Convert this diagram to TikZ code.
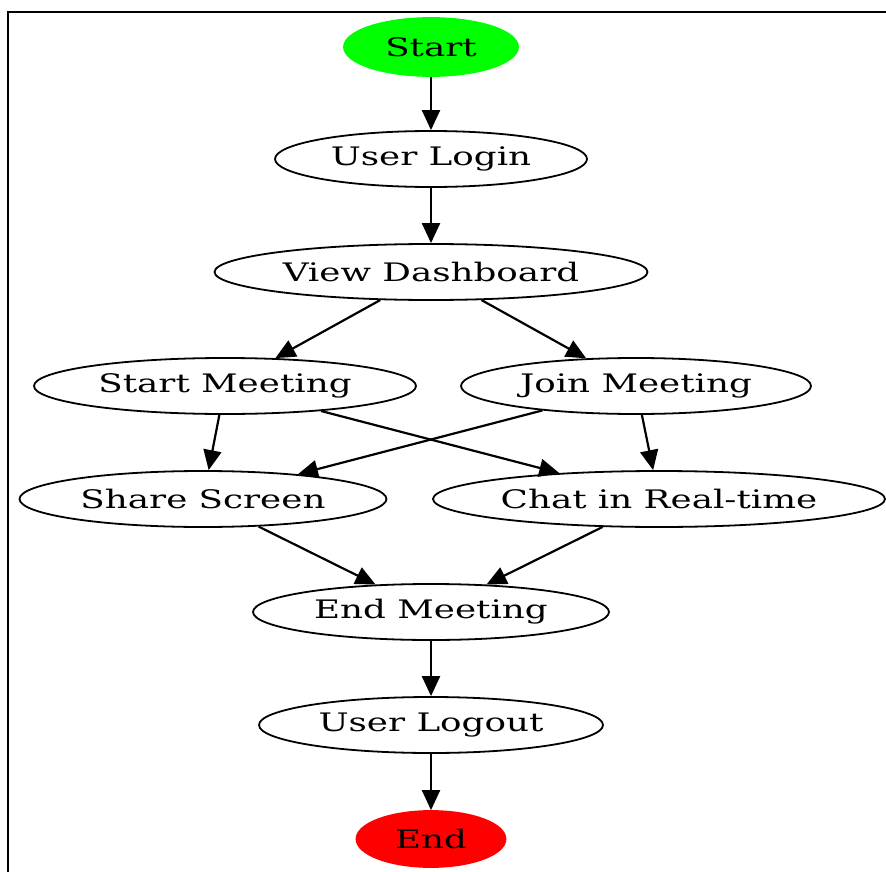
\documentclass[tikz,border=0pt]{standalone}
\usepackage{fontspec}
\setmainfont{DejaVu Serif}
\usetikzlibrary{shapes.geometric,arrows.meta}
\definecolor{gvgreen}{HTML}{00FF00}
\definecolor{gvred}{HTML}{FF0000}
\newcommand{\lbl}[1]{\scalebox{1.4}[1]{#1}}
\tikzset{
  stepnode/.style={ellipse, draw=black, line width=1.8pt, inner sep=0pt,
    minimum height=56pt, font=\fontsize{25.5}{30}\selectfont},
  flow/.style={line width=2.2pt, -{Triangle[length=20pt,width=18pt]}},
}
\begin{document}
\begin{tikzpicture}[x=1pt,y=-1pt]
\useasboundingbox (0,0) rectangle (886,872);
\draw[line width=2pt] (8,880) -- (8,12) -- (890,12);
\node[stepnode, fill=gvgreen, draw=gvgreen, minimum width=174pt, minimum height=58pt] (start) at (431,47) {\lbl{Start}};
\node[stepnode, minimum width=312pt] (login) at (431,159) {\lbl{User Login}};
\node[stepnode, minimum width=433pt] (dash) at (431,272) {\lbl{View Dashboard}};
\node[stepnode, minimum width=382pt] (smeet) at (225,386) {\lbl{Start Meeting}};
\node[stepnode, minimum width=350pt] (jmeet) at (636,386) {\lbl{Join Meeting}};
\node[stepnode, minimum width=367pt] (share) at (203,499) {\lbl{Share Screen}};
\node[stepnode, minimum width=452pt] (chat) at (659,499) {\lbl{Chat in Real-time}};
\node[stepnode, minimum width=356pt] (emeet) at (431,612) {\lbl{End Meeting}};
\node[stepnode, minimum width=344pt] (logout) at (431,725) {\lbl{User Logout}};
\node[stepnode, fill=gvred, draw=gvred, minimum width=149pt] (end) at (431,839) {\lbl{End}};
\draw[flow] (start) -- (login);
\draw[flow] (login) -- (dash);
\draw[flow] (dash) -- (smeet);
\draw[flow] (dash) -- (jmeet);
\draw[flow] (smeet) -- (share);
\draw[flow] (smeet) -- (chat);
\draw[flow] (jmeet) -- (share);
\draw[flow] (jmeet) -- (chat);
\draw[flow] (share) -- (emeet);
\draw[flow] (chat) -- (emeet);
\draw[flow] (emeet) -- (logout);
\draw[flow] (logout) -- (end);
\end{tikzpicture}
\end{document}
